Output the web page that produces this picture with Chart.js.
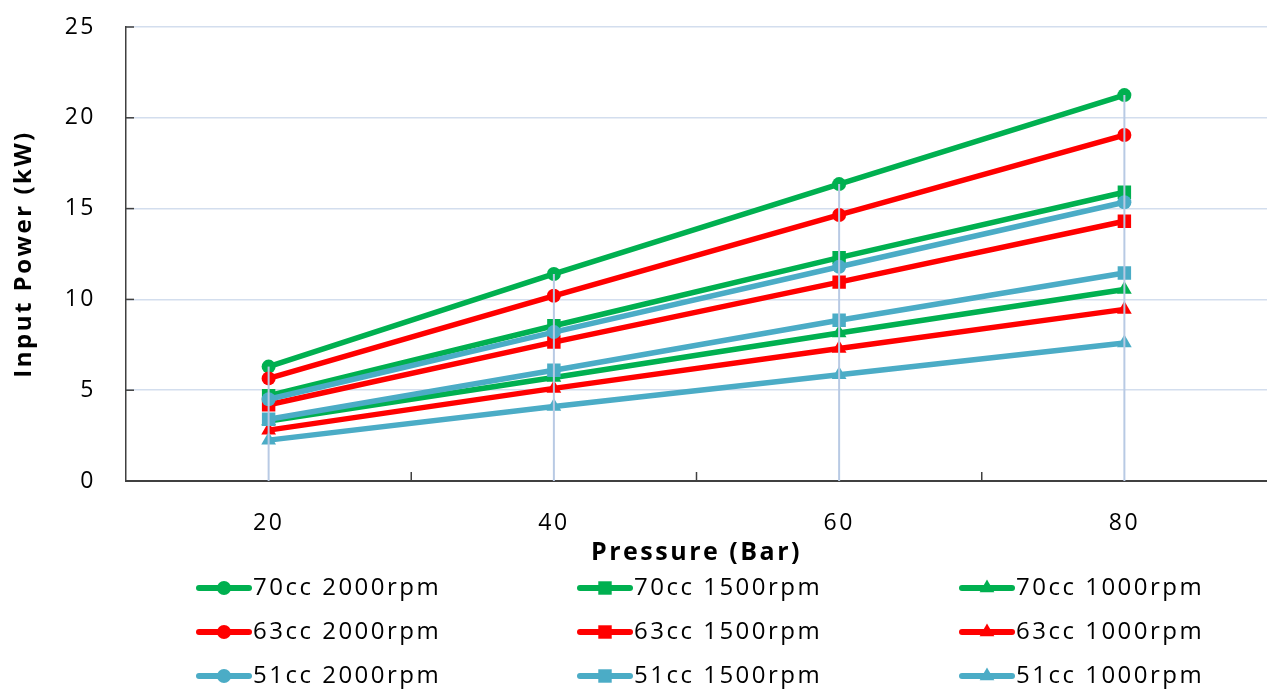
<!DOCTYPE html>
<html>
<head>
<meta charset="utf-8">
<script src="https://cdn.jsdelivr.net/npm/chart.js@4/dist/chart.umd.min.js"></script>
<style>
  html, body { margin: 0; padding: 0; background: #fff; }
  #wrap { width: 1267px; height: 689px; }
</style>
</head>
<body>
<div id="wrap"><canvas id="chart"></canvas></div>
<script>
// pressure categories (Bar)
const pressures = ['20', '40', '60', '80'];

// input power (kW) per pump size / speed
const cc70_2000 = [6.3, 11.4, 16.35, 21.25];
const cc70_1500 = [4.7, 8.55, 12.3, 15.9];
const cc70_1000 = [3.3, 5.7, 8.15, 10.55];
const cc63_2000 = [5.65, 10.2, 14.65, 19.05];
const cc63_1500 = [4.2, 7.65, 10.95, 14.3];
const cc63_1000 = [2.8, 5.1, 7.3, 9.45];
const cc51_2000 = [4.5, 8.2, 11.8, 15.35];
const cc51_1500 = [3.4, 6.1, 8.85, 11.45];
const cc51_1000 = [2.25, 4.1, 5.85, 7.6];

const GREEN = '#00b050', RED = '#ff0000', BLUE = '#4bacc6';
const FONT = "'Open Sans', sans-serif";
const SPACING = '2.5px';

function series(label, data, color, style) {
  const radius = style === 'rect' ? 9.5 : (style === 'triangle' ? 8.5 : 7);
  return {
    label, data,
    borderColor: color, backgroundColor: color,
    borderWidth: 5.5, tension: 0,
    pointStyle: style, pointRadius: radius, pointHoverRadius: radius,
    pointBorderWidth: 0, pointBackgroundColor: color
  };
}

const datasets = [
  series('70cc 2000rpm', cc70_2000, GREEN, 'circle'),
  series('70cc 1500rpm', cc70_1500, GREEN, 'rect'),
  series('70cc 1000rpm', cc70_1000, GREEN, 'triangle'),
  series('63cc 2000rpm', cc63_2000, RED, 'circle'),
  series('63cc 1500rpm', cc63_1500, RED, 'rect'),
  series('63cc 1000rpm', cc63_1000, RED, 'triangle'),
  series('51cc 2000rpm', cc51_2000, BLUE, 'circle'),
  series('51cc 1500rpm', cc51_1500, BLUE, 'rect'),
  series('51cc 1000rpm', cc51_1000, BLUE, 'triangle')
];
// later series are drawn on top, like the original
datasets.forEach((d, i) => d.order = datasets.length - i);

// wider letter spacing for all canvas text
const spacing = {
  id: 'spacing',
  beforeLayout(chart) { chart.ctx.letterSpacing = SPACING; },
  beforeDraw(chart) { chart.ctx.letterSpacing = SPACING; }
};

// drop lines from highest point to the axis + small inside tick marks
const extras = {
  id: 'extras',
  afterDatasetsDraw(chart) {
    const {ctx, chartArea} = chart;
    const x = chart.scales.x, y = chart.scales.y;
    ctx.save();
    ctx.strokeStyle = '#b8cae4';
    ctx.lineWidth = 2;
    pressures.forEach((p, i) => {
      let top = chartArea.bottom;
      chart.data.datasets.forEach((d, j) => {
        const pt = chart.getDatasetMeta(j).data[i];
        if (pt) top = Math.min(top, pt.y);
      });
      const px = x.getPixelForValue(i);
      ctx.beginPath();
      ctx.moveTo(px, top);
      ctx.lineTo(px, chartArea.bottom);
      ctx.stroke();
    });
    ctx.strokeStyle = '#404040';
    ctx.lineWidth = 1.5;
    for (let i = 1; i < pressures.length; i++) {
      const bx = (x.getPixelForValue(i - 1) + x.getPixelForValue(i)) / 2;
      ctx.beginPath();
      ctx.moveTo(bx, chartArea.bottom);
      ctx.lineTo(bx, chartArea.bottom - 9);
      ctx.stroke();
    }
    y.ticks.forEach(t => {
      const py = y.getPixelForValue(t.value);
      ctx.beginPath();
      ctx.moveTo(chartArea.left, py);
      ctx.lineTo(chartArea.left + 8, py);
      ctx.stroke();
    });
    ctx.restore();
  }
};

// three-column legend with line + marker samples
const legend3 = {
  id: 'legend3',
  afterDraw(chart) {
    const {ctx} = chart;
    const cols = [197, 578, 960];
    const rows = [588, 632, 676];
    ctx.save();
    ctx.letterSpacing = SPACING;
    chart.data.datasets.forEach((d, i) => {
      const x0 = cols[i % 3], y0 = rows[Math.floor(i / 3)];
      ctx.strokeStyle = d.borderColor;
      ctx.lineWidth = 6;
      ctx.lineCap = 'round';
      ctx.beginPath();
      ctx.moveTo(x0 + 2, y0);
      ctx.lineTo(x0 + 52, y0);
      ctx.stroke();
      ctx.fillStyle = d.borderColor;
      Chart.helpers.drawPoint(ctx, {
        pointStyle: d.pointStyle,
        radius: d.pointRadius,
        rotation: 0,
        borderWidth: 0
      }, x0 + 27, y0);
      ctx.fillStyle = '#000';
      ctx.font = `24px ${FONT}`;
      ctx.textAlign = 'left';
      ctx.textBaseline = 'middle';
      ctx.fillText(d.label, x0 + 56, y0);
    });
    ctx.restore();
  }
};

new Chart(document.getElementById('chart'), {
  type: 'line',
  data: { labels: pressures, datasets },
  options: {
    responsive: true,
    maintainAspectRatio: false,
    animation: false,
    layout: { autoPadding: false, padding: { left: 0, right: 0, top: 27, bottom: 118 } },
    plugins: {
      legend: { display: false },
      tooltip: { enabled: false }
    },
    scales: {
      x: {
        type: 'category',
        offset: true,
        grid: { display: false, drawTicks: false },
        border: { display: true, color: '#404040', width: 2 },
        ticks: { font: { family: FONT, size: 23 }, color: '#000', padding: 29 },
        title: {
          display: true, text: 'Pressure (Bar)', color: '#000',
          font: { family: FONT, size: 25, weight: 'bold' },
          padding: { top: 0, bottom: 3 }
        },
        afterFit(s) { s.height = 90; }
      },
      y: {
        min: 0, max: 25,
        ticks: { stepSize: 5, font: { family: FONT, size: 23 }, color: '#000', padding: 2 },
        grid: { color: '#d3deee', lineWidth: 1.5, drawTicks: true, tickLength: 28, tickColor: 'rgba(0,0,0,0)' },
        border: { display: true, color: '#404040', width: 1.5 },
        title: {
          display: true, text: 'Input Power (kW)', color: '#000',
          font: { family: FONT, size: 24, weight: 'bold' },
          padding: { top: 10, bottom: 0 }
        },
        afterFit(s) { s.width = 126; }
      }
    }
  },
  plugins: [spacing, extras, legend3]
});
</script>
</body>
</html>
